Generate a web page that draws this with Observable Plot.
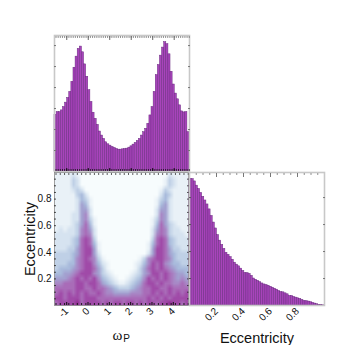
<!DOCTYPE html>
<html>
<head>
<meta charset="utf-8">
<script src="https://cdn.jsdelivr.net/npm/d3@7"></script>
<script src="https://cdn.jsdelivr.net/npm/@observablehq/plot@0.6"></script>
<style>
html,body{margin:0;padding:0;background:#fff}
#fig{position:relative;width:360px;height:360px;overflow:hidden}
#fig svg{position:absolute;background:transparent}
</style>
</head>
<body>
<div id="fig"></div>
<script>
const omegaCounts = [2704,2832,2832,2912,3072,3280,3504,3792,4272,4944,5472,5840,5952,5680,5104,4512,3872,3312,2800,2512,2224,1904,1712,1552,1392,1296,1232,1168,1120,1072,1040,1040,1056,1072,1088,1136,1200,1280,1360,1456,1552,1712,1872,2032,2272,2672,3072,3792,4592,5072,5520,5904,6160,6064,5584,4752,4144,3712,3440,3152,2864,2816,2832,1872];
const eccCounts = [4697,4685,4599,4441,4319,4172,4026,3892,3745,3562,3318,3074,2855,2611,2403,2245,2098,1952,1879,1793,1696,1586,1513,1452,1366,1281,1208,1196,1171,1098,1000,952,915,866,817,781,756,732,695,659,622,586,537,500,488,451,415,354,354,317,293,268,244,207,171,159,146,122,98,73,49,24,12,6];
const densityRows = [
"11112100000000000000000000021111",
"11113200000000000000000000132111",
"11113200000000000000000000132111",
"11112320000000000000000001321111",
"11111342000000000000000002431111",
"11111243100000000000000013421111",
"11111254100000000000000014521111",
"11111255200000000000000025521111",
"11112256200000000000000026521111",
"11112256310000000000000136521111",
"11112357410000000000000147532111",
"12122367520000000000000257632211",
"22222367620000000000000267632221",
"22223478730000000000000378743222",
"22223478741000000000001478743222",
"22233578851000000000001588753322",
"33334578852000000000002588754333",
"33334678763100000000136788764333",
"33344678864210000001246878654433",
"34445678875310000001357878765444",
"44556788865321000012356887876554",
"55567878786432100123468787876565",
"66777887887543211234578878776676",
"77777887787765433345677887787777",
"78787878778766555566677878787878",
"88788878887777777777778787878888",
"78888978888787887887878878898878"
];
const omegaTicks = [-1,0,1,2,3,4];
const eccTicks = [0.2,0.4,0.6,0.8];
const levelColors = ["#f7fcfd","#e9f1f7","#d6e3f0","#bfd0e6","#a9bbdc","#a3a1d0","#a888c6","#a96cb8","#a04aa8","#902a92"];
const omegaDomain = [-Math.PI/2, 3*Math.PI/2];
const eccDomain = [0,1];
const frameColor = "#c8c8c8", barFill = "#a844bb", barEdge = "#6a2a80";
const sans = "'Liberation Sans', Arial, sans-serif";
const density = densityRows.flatMap(r => Array.from(r, Number));
const omegaMinor = d3.range(-1.5, 4.75, 0.1);
const omegaStep = (omegaDomain[1]-omegaDomain[0])/omegaCounts.length;
const eccStep = 1/eccCounts.length;
const ticksOnly = (o) => ({fill:"none", label:null, ...o});

const topPanel = Plot.plot({
  width:160, height:147, marginLeft:14, marginRight:11, marginTop:10, marginBottom:1,
  style:{background:"transparent"},
  x:{domain:omegaDomain},
  y:{domain:[0,6480]},
  marks:[
    Plot.rectY(omegaCounts,{x1:(d,i)=>omegaDomain[0]+i*omegaStep,x2:(d,i)=>omegaDomain[0]+(i+1)*omegaStep,y:d=>d,fill:barFill,stroke:barEdge,strokeWidth:0.5}),
    Plot.frame({stroke:frameColor,strokeWidth:1.6}),
    Plot.axisX(ticksOnly({anchor:"top",ticks:omegaMinor,tickSize:-2,stroke:"#666",strokeWidth:0.7})),
    Plot.axisX(ticksOnly({anchor:"top",ticks:omegaTicks,tickSize:-4,stroke:"#666"})),
    Plot.axisX(ticksOnly({anchor:"bottom",ticks:omegaMinor,tickSize:-2,stroke:"#111",strokeWidth:0.8})),
    Plot.axisX(ticksOnly({anchor:"bottom",ticks:omegaTicks,tickSize:-3,stroke:"#111"})),
    Plot.axisY(ticksOnly({anchor:"left",ticks:[1000,2000,3000,4000,5000,6000],tickSize:-2,stroke:"#777"})),
    Plot.axisY(ticksOnly({anchor:"right",ticks:[1000,2000,3000,4000,5000,6000],tickSize:-2,stroke:"#777"}))
  ]
});
topPanel.style.left="40px"; topPanel.style.top="25px";

const mapPanel = Plot.plot({
  width:195, height:180, marginLeft:54, marginRight:7, marginTop:7, marginBottom:40,
  style:{background:"transparent"},
  x:{domain:omegaDomain},
  y:{domain:eccDomain},
  color:{type:"linear",domain:d3.range(levelColors.length),range:levelColors},
  marks:[
    Plot.raster(density,{width:32,height:27,x1:omegaDomain[0],x2:omegaDomain[1],y1:1,y2:0,fill:d=>d}),
    Plot.frame({stroke:"#8a8a8a",strokeWidth:0.8}),
    Plot.axisX(ticksOnly({anchor:"bottom",ticks:omegaMinor.filter((d,i)=>i%2===0),tickSize:-2,stroke:"#111",strokeWidth:0.9})),
    Plot.axisX(ticksOnly({anchor:"bottom",ticks:omegaTicks,tickSize:-3,stroke:"#111"})),
    Plot.axisX(ticksOnly({anchor:"top",ticks:omegaMinor.filter((d,i)=>i%2===0),tickSize:-2,stroke:"#333",strokeWidth:0.8})),
    Plot.axisY(ticksOnly({anchor:"left",ticks:d3.range(0.05,1,0.05),tickSize:-2,stroke:"#222",strokeWidth:0.8})),
    Plot.axisY(ticksOnly({anchor:"right",ticks:d3.range(0.05,1,0.05),tickSize:-2,stroke:"#222",strokeWidth:0.8})),
    Plot.axisX({ticks:omegaTicks,tickSize:0,tickPadding:4,tickRotate:-45,label:null,fontSize:10,fontFamily:sans,fill:"#111",tickFormat:d=>String(d)}),
    Plot.axisY({ticks:eccTicks,tickSize:0,tickPadding:3,label:null,fontSize:10,fontFamily:sans,fill:"#111",tickFormat:d=>String(d)}),
    Plot.text(["Eccentricity"],{frameAnchor:"left",dx:-24,rotate:-90,textAnchor:"middle",fontSize:14.5,fontFamily:sans,fill:"#111"}),
    Plot.text(["ω"],{frameAnchor:"bottom",dx:-4,dy:34,fontSize:15,fontFamily:"'Liberation Serif',serif",fill:"#111"}),
    Plot.text(["P"],{frameAnchor:"bottom",dx:5,dy:36,fontSize:10,fontFamily:sans,fill:"#111"})
  ]
});
mapPanel.style.left="0px"; mapPanel.style.top="165px";

const rightPanel = Plot.plot({
  width:160, height:180, marginLeft:9, marginRight:16, marginTop:7, marginBottom:40,
  style:{background:"transparent"},
  x:{domain:eccDomain},
  y:{domain:[0,4929]},
  marks:[
    Plot.rectY(eccCounts,{x1:(d,i)=>i*eccStep,x2:(d,i)=>(i+1)*eccStep,y:d=>d,fill:barFill,stroke:barEdge,strokeWidth:0.5}),
    Plot.frame({stroke:frameColor,strokeWidth:1.6}),
    Plot.axisX(ticksOnly({anchor:"top",ticks:d3.range(0.05,1,0.05),tickSize:-2,stroke:"#777",strokeWidth:0.8})),
    Plot.axisX(ticksOnly({anchor:"top",ticks:eccTicks,tickSize:-4,stroke:"#777"})),
    Plot.axisY(ticksOnly({anchor:"left",ticks:[1000,2000,3000,4000],tickSize:-2,stroke:"#555"})),
    Plot.axisY(ticksOnly({anchor:"right",ticks:[1000,2000,3000,4000],tickSize:-2,stroke:"#777"})),
    Plot.axisX({ticks:eccTicks,tickSize:0,tickPadding:4,tickRotate:-45,label:null,fontSize:10,fontFamily:sans,fill:"#111",tickFormat:d=>String(d)}),
    Plot.text(["Eccentricity"],{frameAnchor:"bottom",dy:37,fontSize:14.5,fontFamily:sans,fill:"#111"})
  ]
});
rightPanel.style.left="180px"; rightPanel.style.top="165px";

document.getElementById("fig").append(mapPanel, topPanel, rightPanel);
</script>
</body>
</html>
